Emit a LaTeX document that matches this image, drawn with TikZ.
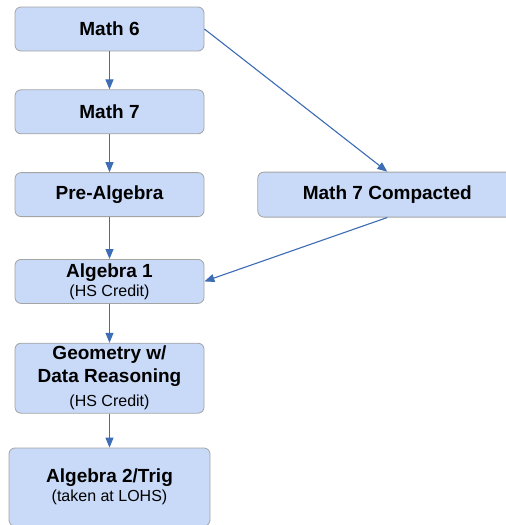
\documentclass[tikz,border=0pt]{standalone}
\usepackage{fontspec}
\setmainfont{Liberation Sans}
\usetikzlibrary{positioning,arrows.meta}

\definecolor{boxfill}{HTML}{C9DAF8}
\definecolor{boxline}{HTML}{A4A4A4}
\definecolor{arrowblue}{HTML}{3D6DB5}

\newcommand{\credit}[1]{{\fontsize{16}{19}\selectfont\mdseries #1}}

\begin{document}
\begin{tikzpicture}[
        node distance=38pt,
        course/.style={
            rectangle,
            rounded corners=6pt,
            draw=boxline,
            fill=boxfill,
            line width=0.8pt,
            minimum width=189pt,
            minimum height=44pt,
            inner sep=2pt,
            align=center,
            font=\fontsize{19}{22}\selectfont\bfseries
        },
        >={Triangle[length=10pt,width=8pt]},
        arrow/.style={->, draw=arrowblue, fill=arrowblue, line width=1.1pt}
    ]
        \useasboundingbox (0,0) rectangle (506pt,-525pt);

        % courses
        \node[course] (math6) at (109.5pt,-29pt) {Math 6};
        \node[course] (math7) [below=of math6] {Math 7};
        \node[course] (prealg) [below=of math7] {Pre-Algebra};
        \node[course] (alg1) [below=42pt of prealg] {Algebra 1\\[-3pt]\credit{(HS Credit)}};
        \node[course, minimum height=70pt] (geo) [below=39pt of alg1]
            {Geometry w/\\[1pt]Data Reasoning\\[2pt]\credit{(HS Credit)}};
        \node[course, minimum width=201pt, minimum height=78pt] (alg2) [below=34pt of geo]
            {Algebra 2/Trig\\[-3pt]\credit{(taken at LOHS)}};
        \node[course, minimum width=259pt, minimum height=45pt] (math7c) [right=53pt of prealg] {Math 7 Compacted};

        % arrows
        \draw[arrow] (math6) -- (math7);
        \draw[arrow] (math7) -- (prealg);
        \draw[arrow] (prealg) -- (alg1);
        \draw[arrow] (alg1) -- (geo);
        \draw[arrow] (geo) -- (alg2);
        \draw[arrow] (math6.east) -- (math7c.north);
        \draw[arrow] (math7c.south) -- (alg1.east);
    \end{tikzpicture}
\end{document}
